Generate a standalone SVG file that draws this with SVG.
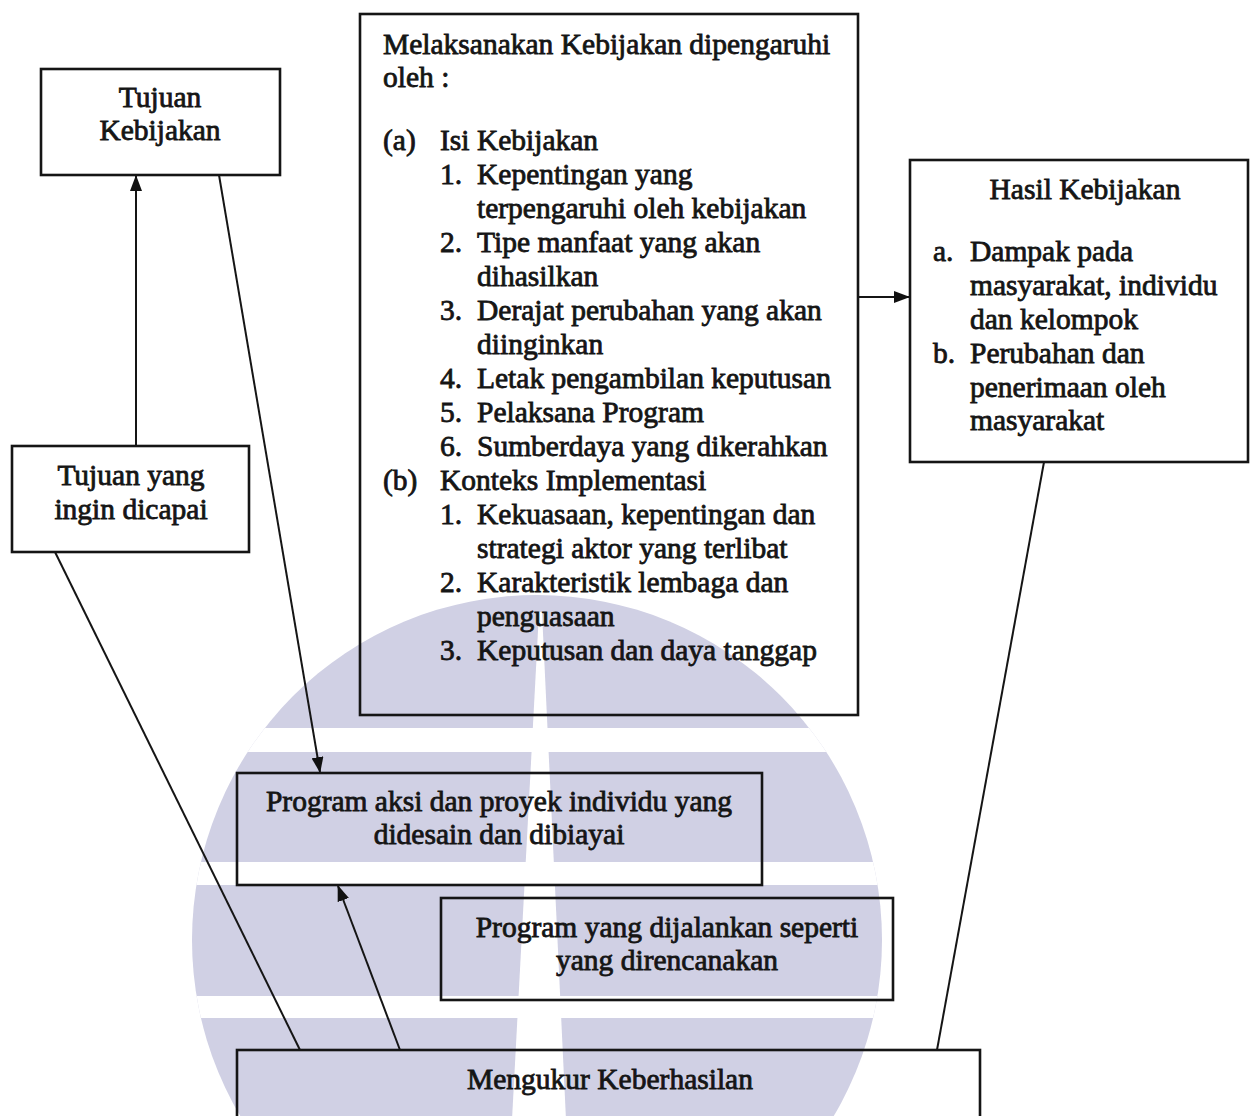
<svg xmlns="http://www.w3.org/2000/svg" width="1250" height="1116" viewBox="0 0 1250 1116">
<defs>
<marker id="ah" viewBox="0 0 16 12" refX="15" refY="6" markerWidth="16" markerHeight="12" markerUnits="userSpaceOnUse" orient="auto">
<path d="M0,0 L16,6 L0,12 Z" fill="#111"/>
</marker>
<clipPath id="circ"><circle cx="537" cy="940" r="345"/></clipPath>
</defs>
<style>
.box{fill:none;stroke:#151515;stroke-width:2.6}
.ln{fill:none;stroke:#151515;stroke-width:2}
text{font-family:"Liberation Serif","Times New Roman",serif;font-size:29.5px;fill:#151515;stroke:#151515;stroke-width:0.8}
.c{text-anchor:middle}
</style>
<rect width="1250" height="1116" fill="#ffffff"/>
<g id="watermark" clip-path="url(#circ)">
<rect x="180" y="580" width="720" height="540" fill="#d0d0e4"/>
<rect x="180" y="728" width="720" height="24" fill="#ffffff"/>
<rect x="180" y="862" width="720" height="23" fill="#ffffff"/>
<rect x="180" y="996" width="720" height="22" fill="#ffffff"/>
<path d="M539,612 L542,612 L566,1120 L512,1120 Z" fill="#ffffff"/>
</g>
<g id="connectors">
<line class="ln" x1="136" y1="446" x2="136" y2="176" marker-end="url(#ah)"/>
<line class="ln" x1="219" y1="175" x2="320" y2="772" marker-end="url(#ah)"/>
<line class="ln" x1="55" y1="552" x2="300" y2="1050"/>
<line class="ln" x1="400" y1="1050" x2="338" y2="886" marker-end="url(#ah)"/>
<line class="ln" x1="858" y1="297" x2="909" y2="297" marker-end="url(#ah)"/>
<line class="ln" x1="1044" y1="462" x2="937" y2="1050"/>
</g>
<g id="tujuan-kebijakan">
<rect class="box" x="41" y="69" width="239" height="106"/>
<text class="c" x="160" y="107">Tujuan</text>
<text class="c" x="160" y="140">Kebijakan</text>
</g>
<g id="tujuan-dicapai">
<rect class="box" x="12" y="446" width="237" height="106"/>
<text class="c" x="131" y="485">Tujuan yang</text>
<text class="c" x="131" y="519">ingin dicapai</text>
</g>
<g id="melaksanakan">
<rect class="box" x="360" y="14" width="498" height="701"/>
<text x="383" y="54">Melaksanakan Kebijakan dipengaruhi</text>
<text x="383" y="87">oleh :</text>
<text x="383" y="150">(a)</text><text x="440" y="150">Isi Kebijakan</text>
<text x="440" y="184">1.</text><text x="477" y="184">Kepentingan yang</text>
<text x="477" y="218">terpengaruhi oleh kebijakan</text>
<text x="440" y="252">2.</text><text x="477" y="252">Tipe manfaat yang akan</text>
<text x="477" y="286">dihasilkan</text>
<text x="440" y="320">3.</text><text x="477" y="320">Derajat perubahan yang akan</text>
<text x="477" y="354">diinginkan</text>
<text x="440" y="388">4.</text><text x="477" y="388">Letak pengambilan keputusan</text>
<text x="440" y="422">5.</text><text x="477" y="422">Pelaksana Program</text>
<text x="440" y="456">6.</text><text x="477" y="456">Sumberdaya yang dikerahkan</text>
<text x="383" y="490">(b)</text><text x="440" y="490">Konteks Implementasi</text>
<text x="440" y="524">1.</text><text x="477" y="524">Kekuasaan, kepentingan dan</text>
<text x="477" y="558">strategi aktor yang terlibat</text>
<text x="440" y="592">2.</text><text x="477" y="592">Karakteristik lembaga dan</text>
<text x="477" y="626">penguasaan</text>
<text x="440" y="660">3.</text><text x="477" y="660">Keputusan dan daya tanggap</text>
</g>
<g id="hasil">
<rect class="box" x="910" y="160" width="338" height="302"/>
<text class="c" x="1085" y="199">Hasil Kebijakan</text>
<text x="933" y="261">a.</text><text x="970" y="261">Dampak pada</text>
<text x="970" y="295">masyarakat, individu</text>
<text x="970" y="329">dan kelompok</text>
<text x="933" y="363">b.</text><text x="970" y="363">Perubahan dan</text>
<text x="970" y="397">penerimaan oleh</text>
<text x="970" y="430">masyarakat</text>
</g>
<g id="program-aksi">
<rect class="box" x="237" y="773" width="525" height="112"/>
<text class="c" x="499" y="811">Program aksi dan proyek individu yang</text>
<text class="c" x="499" y="844">didesain dan dibiayai</text>
</g>
<g id="program-dijalankan">
<rect class="box" x="441" y="898" width="452" height="102"/>
<text class="c" x="667" y="937">Program yang dijalankan seperti</text>
<text class="c" x="667" y="970">yang direncanakan</text>
</g>
<g id="mengukur">
<rect class="box" x="237" y="1050" width="743" height="72"/>
<text class="c" x="610" y="1089">Mengukur Keberhasilan</text>
</g>
</svg>
